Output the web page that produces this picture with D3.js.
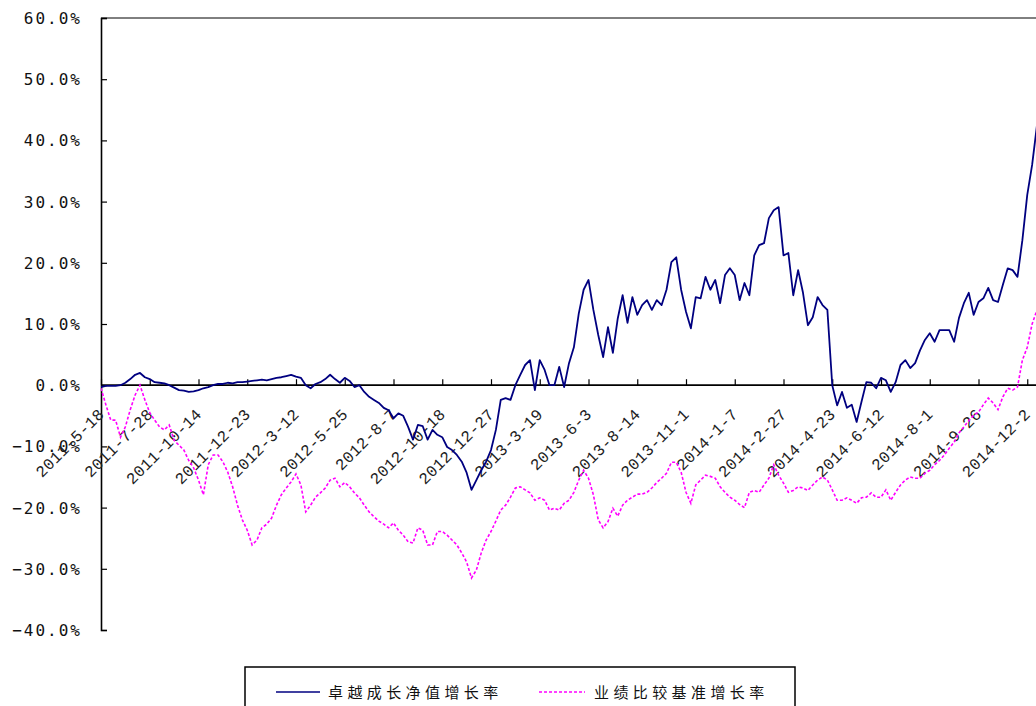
<!DOCTYPE html>
<html>
<head>
<meta charset="utf-8">
<script src="https://cdn.jsdelivr.net/npm/d3@7/dist/d3.min.js"></script>
<style>
  html, body { margin: 0; padding: 0; background: #fff; }
  svg { display: block; }
</style>
</head>
<body>
<svg id="chart" width="1036" height="706"></svg>
<script>
// ---- data ----
const tickLabels = ["2011-5-18","2011-7-28","2011-10-14","2011-12-23","2012-3-12","2012-5-25",
  "2012-8-7","2012-10-18","2012-12-27","2013-3-19","2013-6-3","2013-8-14","2013-11-1",
  "2014-1-7","2014-2-27","2014-4-23","2014-6-12","2014-8-1","2014-9-26","2014-12-2"];

const seriesNames = ["卓越成长净值增长率", "业绩比较基准增长率"];

// 卓越成长净值增长率 (%), sampled evenly along the category axis
const navGrowth = [
  -0.3,-0.1,-0.1,-0.1,0.0,0.4,1.0,1.7,2.0,1.3,
  1.0,0.5,0.4,0.3,0.0,-0.4,-0.8,-0.9,-1.1,-1.0,
  -0.8,-0.5,-0.3,0.0,0.2,0.2,0.4,0.3,0.5,0.5,
  0.6,0.7,0.8,0.9,0.8,1.0,1.2,1.3,1.5,1.7,
  1.4,1.2,0.0,-0.5,0.2,0.5,1.0,1.7,1.0,0.4,
  1.2,0.7,-0.3,0.0,-1.1,-1.9,-2.4,-2.9,-3.7,-4.1,
  -5.4,-4.6,-5.0,-6.8,-8.9,-6.5,-6.7,-8.9,-7.3,-8.1,
  -8.5,-10.1,-10.6,-11.4,-12.5,-14.3,-17.1,-15.5,-13.9,-12.5,
  -10.6,-7.3,-2.4,-2.1,-2.4,0.0,1.7,3.3,4.1,-0.8,
  4.1,2.5,0.0,0.0,3.0,-0.3,3.6,6.2,11.7,15.6,
  17.2,12.3,8.2,4.6,9.5,5.3,10.9,14.7,10.2,14.4,
  11.5,13.1,13.9,12.3,13.9,13.1,15.6,20.1,20.9,15.6,
  12.0,9.3,14.4,14.2,17.7,15.6,17.2,13.4,18.0,19.1,
  18.0,13.9,16.7,14.7,21.2,22.9,23.2,27.3,28.6,29.1,
  21.2,21.6,14.7,18.8,15.1,9.8,11.1,14.4,13.1,12.3,
  0.0,-3.3,-1.1,-3.7,-3.2,-6.0,-2.7,0.5,0.4,-0.5,
  1.2,0.8,-1.1,0.5,3.3,4.1,2.8,3.6,5.7,7.4,
  8.5,7.1,9.0,9.0,9.0,7.1,11.0,13.4,15.1,11.5,
  13.6,14.2,15.9,13.9,13.6,16.4,19.1,18.8,17.7,23.7,
  31.1,36.0,42.5
];

// 业绩比较基准增长率 (%)
const benchGrowth = [
  -0.5,-3.2,-5.7,-5.7,-8.5,-6.8,-4.0,-1.6,0.0,-2.4,
  -4.5,-5.7,-6.8,-7.3,-6.5,-9.0,-9.8,-10.6,-12.3,-13.5,
  -15.5,-17.9,-13.0,-11.4,-11.4,-12.5,-14.2,-16.6,-19.6,-22.0,
  -23.7,-26.1,-25.3,-23.3,-22.7,-21.7,-19.6,-17.9,-16.8,-15.8,
  -14.5,-16.3,-20.7,-19.6,-18.3,-17.6,-16.8,-15.5,-15.2,-16.6,
  -15.9,-16.6,-17.6,-18.4,-19.6,-20.7,-21.5,-22.2,-22.7,-23.3,
  -22.5,-23.7,-24.5,-25.6,-25.8,-23.3,-23.7,-26.1,-26.1,-23.9,
  -23.9,-24.5,-25.3,-26.1,-27.4,-28.9,-31.5,-30.2,-27.4,-25.3,
  -23.9,-22.2,-20.4,-19.6,-18.3,-16.8,-16.6,-17.1,-17.6,-18.8,
  -18.4,-18.8,-20.4,-20.1,-20.4,-19.3,-18.8,-17.5,-15.5,-13.9,
  -15.2,-17.9,-22.0,-23.3,-22.3,-20.1,-21.4,-19.6,-18.8,-18.3,
  -17.8,-17.8,-17.5,-16.8,-15.9,-15.2,-14.4,-12.6,-12.6,-14.2,
  -17.5,-19.3,-16.3,-15.5,-14.7,-14.9,-15.2,-16.6,-17.5,-18.3,
  -18.8,-19.5,-20.0,-17.5,-17.2,-17.5,-16.3,-15.2,-13.0,-14.7,
  -16.0,-17.5,-17.2,-16.6,-16.8,-17.2,-16.3,-15.5,-15.0,-15.5,
  -17.1,-18.8,-18.8,-18.4,-18.8,-19.3,-18.4,-18.3,-17.6,-18.3,
  -18.3,-17.1,-18.8,-17.5,-16.3,-15.5,-15.0,-15.2,-15.2,-14.4,
  -13.9,-13.0,-12.3,-11.4,-10.3,-9.3,-7.8,-6.8,-5.8,-4.9,
  -4.4,-3.2,-2.1,-2.9,-4.0,-1.9,-0.5,-0.8,-0.3,4.1,
  6.2,10.0,12.3
];

const yTicks = [60, 50, 40, 30, 20, 10, 0, -10, -20, -30, -40];
const samplesPerLabel = 10;

// ---- layout ----
const W = 1036, H = 706;
const plot = { left: 101, right: 1036, top: 18, bottom: 630 };
const colors = { nav: "#000080", bench: "#ff00ff" };

const svg = d3.select("#chart");

const y = d3.scaleLinear().domain([-40, 60]).range([plot.bottom, plot.top]);
const x = d3.scaleLinear()
  .domain([0, (tickLabels.length - 1) * samplesPerLabel])
  .range([plot.left, 1027.25]);

// clip
svg.append("defs").append("clipPath").attr("id", "clip")
  .append("rect").attr("x", plot.left).attr("y", plot.top - 2)
  .attr("width", plot.right - plot.left).attr("height", plot.bottom - plot.top + 4);

// top border
svg.append("line")
  .attr("x1", plot.left).attr("x2", plot.right)
  .attr("y1", plot.top).attr("y2", plot.top)
  .attr("stroke", "#000").attr("stroke-width", 1);

// y axis
const yAxis = d3.axisRight(y).tickValues(yTicks).tickSize(6).tickFormat("");
const gy = svg.append("g").attr("transform", `translate(${plot.left},0)`).call(yAxis);
gy.select(".domain").attr("stroke", "#000").attr("stroke-width", 1.6);
gy.selectAll(".tick line").attr("stroke", "#000").attr("stroke-width", 1.2);

svg.append("g").selectAll("text").data(yTicks).join("text")
  .attr("x", 82)
  .attr("y", d => y(d) + 6)
  .attr("text-anchor", "end")
  .attr("font-family", "'DejaVu Sans Mono', monospace")
  .attr("font-size", 16)
  .attr("letter-spacing", "2px")
  .attr("fill", "#111")
  .text(d => d3.format(".1f")(d) + "%");

// zero / category axis
const tickIdx = tickLabels.map((_, i) => i * samplesPerLabel);
const xAxis = d3.axisTop(x).tickValues(tickIdx).tickSize(6).tickFormat("");
const gx = svg.append("g").attr("transform", `translate(0,${y(0)})`).call(xAxis);
gx.select(".domain").attr("d", `M${plot.left},0H${plot.right}`)
  .attr("stroke", "#000").attr("stroke-width", 1.8);
gx.selectAll(".tick line").attr("stroke", "#000").attr("stroke-width", 1.2);

svg.append("g").selectAll("text").data(tickLabels).join("text")
  .attr("transform", (d, i) => `translate(${x(i * samplesPerLabel) + 4},${y(0) + 30}) rotate(-45)`)
  .attr("text-anchor", "end")
  .attr("font-family", "'Liberation Mono', monospace")
  .attr("font-size", 16)
  .attr("letter-spacing", "0.3px")
  .attr("fill", "#222")
  .text(d => d);

// series
const line = d3.line().x((d, i) => x(i)).y(d => y(d));
const g = svg.append("g").attr("clip-path", "url(#clip)");
g.append("path").datum(navGrowth)
  .attr("d", line).attr("fill", "none")
  .attr("stroke", colors.nav).attr("stroke-width", 1.8).attr("stroke-linejoin", "round");
g.append("path").datum(benchGrowth)
  .attr("d", line).attr("fill", "none")
  .attr("stroke", colors.bench).attr("stroke-width", 1.6)
  .attr("stroke-dasharray", "3,2");

// legend
const lg = svg.append("g");
lg.append("rect").attr("x", 245).attr("y", 667).attr("width", 550).attr("height", 60)
  .attr("fill", "#fff").attr("stroke", "#000").attr("stroke-width", 1.5);
const legendItems = [
  { name: seriesNames[0], color: colors.nav, dash: null, x1: 276, x2: 320, tx: 328 },
  { name: seriesNames[1], color: colors.bench, dash: "3,2", x1: 539, x2: 585, tx: 594 }
];
legendItems.forEach(it => {
  lg.append("line").attr("x1", it.x1).attr("x2", it.x2).attr("y1", 692).attr("y2", 692)
    .attr("stroke", it.color).attr("stroke-width", 1.6)
    .attr("stroke-dasharray", it.dash);
  lg.append("text").attr("x", it.tx).attr("y", 698)
    .attr("font-family", "'Noto Sans CJK SC', sans-serif")
    .attr("font-size", 15)
    .attr("letter-spacing", "4.4px")
    .attr("fill", "#111")
    .text(it.name);
});
</script>
</body>
</html>
